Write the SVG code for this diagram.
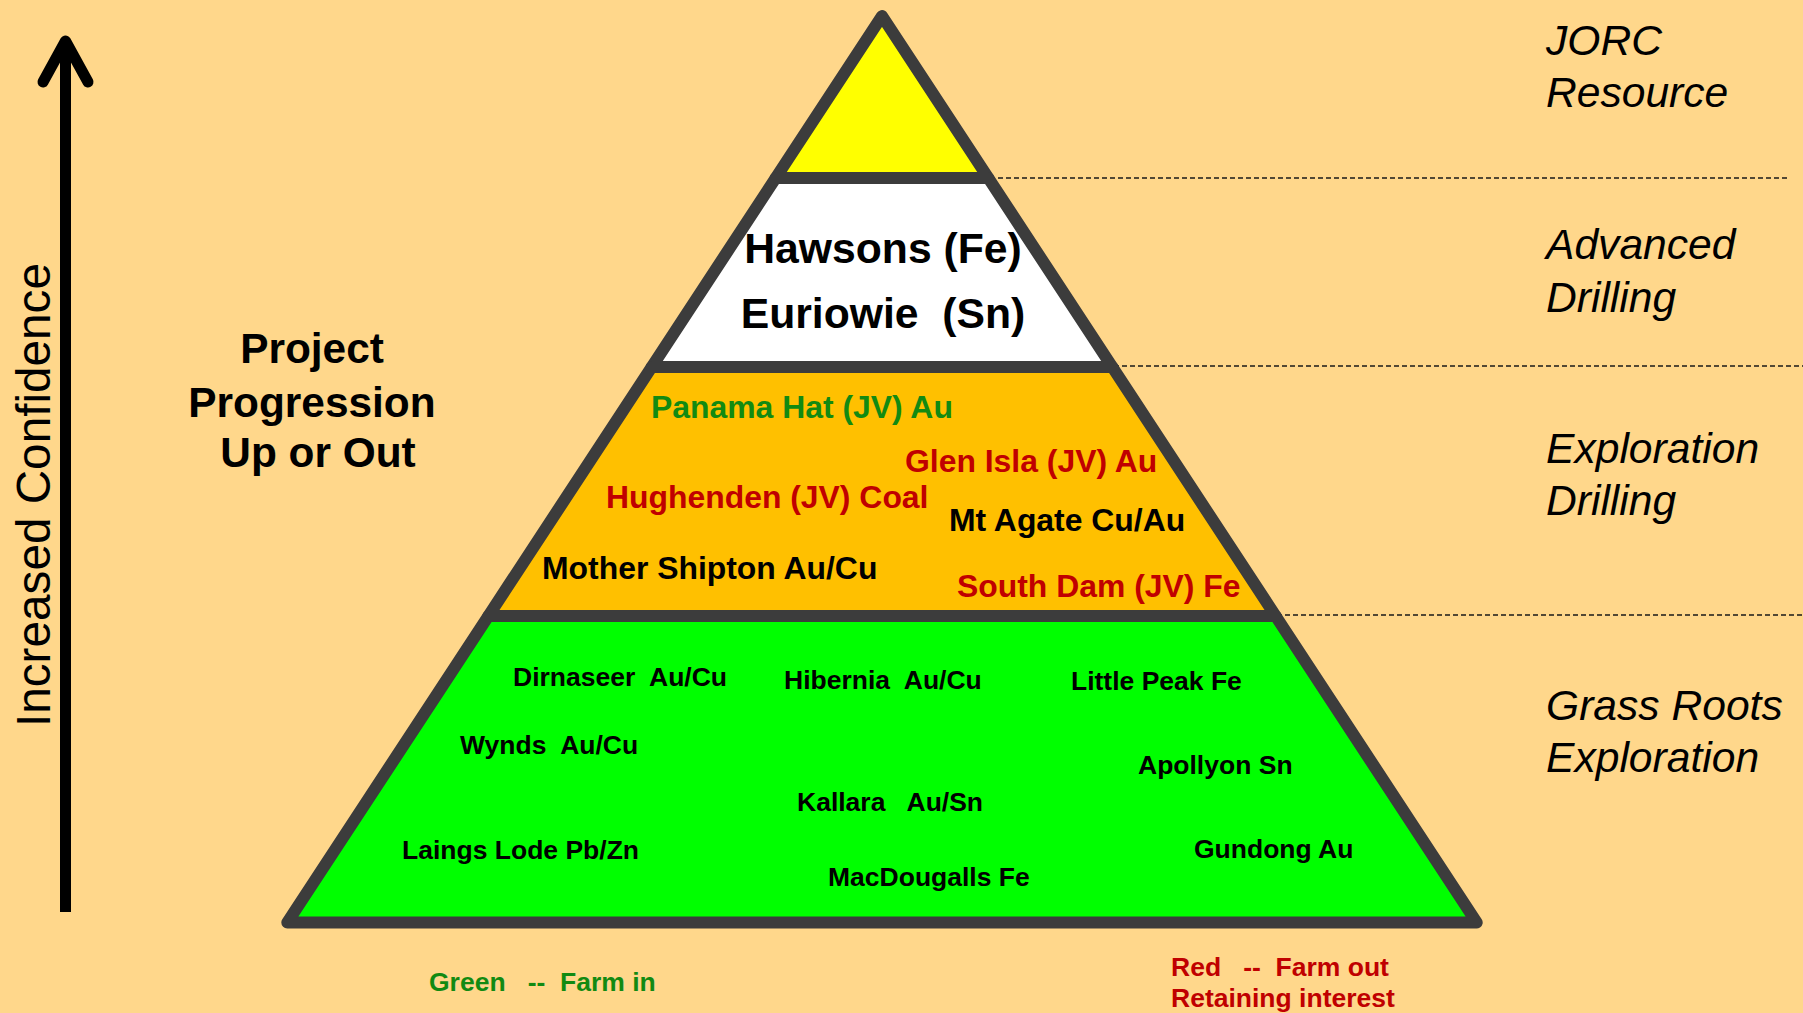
<svg xmlns="http://www.w3.org/2000/svg" width="1803" height="1013" viewBox="0 0 1803 1013">
<style>
.layer{stroke:#3c3c3c;stroke-width:12;stroke-linejoin:round}
.b{font-family:"Liberation Sans",Arial,sans-serif;font-weight:bold}
.lbl{font-family:"Liberation Sans",Arial,sans-serif;font-style:italic;font-size:42.6px;fill:#000}
.o{font-size:31.9px}
.g{font-size:26.5px;fill:#000}
.grn{fill:#128A12}
.red{fill:#C00000}
.blk{fill:#000}
.dash{stroke:#1a1a1a;stroke-width:1.5;stroke-dasharray:5 3;fill:none}
</style>
<rect x="0" y="0" width="1803" height="1013" fill="#FFD78B"/>

<g id="connectors">
  <line class="dash" x1="990" y1="178" x2="1790" y2="178"/>
  <line class="dash" x1="1114" y1="366" x2="1803" y2="366"/>
  <line class="dash" x1="1277" y1="615" x2="1803" y2="615"/>
  <g id="confidence-arrow" stroke="#000" stroke-width="11" fill="none">
    <line x1="65.5" y1="42" x2="65.5" y2="912" stroke-linecap="butt"/>
    <polyline points="43,82 65.5,41 88,82" stroke-linecap="round" stroke-linejoin="round"/>
  </g>
</g>

<g id="jorc-layer">
  <polygon class="layer" fill="#FFFF00" points="882,16 988.3,178 775.7,178"/>
</g>
<g id="advanced-layer">
  <polygon class="layer" fill="#FFFFFF" points="775.7,178 988.3,178 1112.3,367 651.7,367"/>
  <text class="b blk" font-size="42.7" x="883" y="263" text-anchor="middle">Hawsons (Fe)</text>
  <text class="b blk" font-size="42.7" x="883" y="328" text-anchor="middle" xml:space="preserve">Euriowie  (Sn)</text>
</g>
<g id="exploration-layer">
  <polygon class="layer" fill="#FFC000" points="651.7,367 1112.3,367 1275.6,616 488.4,616"/>
  <text class="b o grn" x="651" y="418">Panama Hat (JV) Au</text>
  <text class="b o red" x="905" y="472">Glen Isla (JV) Au</text>
  <text class="b o red" x="606" y="508">Hughenden (JV) Coal</text>
  <text class="b o blk" x="949" y="531">Mt Agate Cu/Au</text>
  <text class="b o blk" x="542" y="579">Mother Shipton Au/Cu</text>
  <text class="b o red" x="957" y="597">South Dam (JV) Fe</text>
</g>
<g id="grassroots-layer">
  <polygon class="layer" fill="#00FF00" points="488.4,616 1275.6,616 1476.7,922.5 287.3,922.5"/>
  <text class="b g" x="513" y="686" xml:space="preserve">Dirnaseer  Au/Cu</text>
  <text class="b g" x="784" y="689" xml:space="preserve">Hibernia  Au/Cu</text>
  <text class="b g" x="1071" y="690">Little Peak Fe</text>
  <text class="b g" x="460" y="754" xml:space="preserve">Wynds  Au/Cu</text>
  <text class="b g" x="1138" y="774">Apollyon Sn</text>
  <text class="b g" x="797" y="811" xml:space="preserve">Kallara   Au/Sn</text>
  <text class="b g" x="402" y="859">Laings Lode Pb/Zn</text>
  <text class="b g" x="1194" y="858">Gundong Au</text>
  <text class="b g" x="828" y="886">MacDougalls Fe</text>
</g>

<g id="stage-labels">
  <text class="lbl" x="1546" y="55">JORC</text>
  <text class="lbl" x="1546" y="107">Resource</text>
  <text class="lbl" x="1546" y="259">Advanced</text>
  <text class="lbl" x="1546" y="312">Drilling</text>
  <text class="lbl" x="1546" y="463">Exploration</text>
  <text class="lbl" x="1546" y="515">Drilling</text>
  <text class="lbl" x="1546" y="720">Grass Roots</text>
  <text class="lbl" x="1546" y="772">Exploration</text>
</g>

<g id="confidence-label">
  <text transform="translate(50,727) rotate(-90)" font-family="Liberation Sans, Arial, sans-serif" font-size="47.7" fill="#000">Increased Confidence</text>
</g>

<g id="progression-label">
  <text class="b blk" font-size="42.4" x="312" y="363" text-anchor="middle">Project</text>
  <text class="b blk" font-size="42.4" x="312" y="417" text-anchor="middle">Progression</text>
  <text class="b blk" font-size="42.4" x="318" y="467" text-anchor="middle">Up or Out</text>
</g>

<g id="legend-green">
  <text class="b grn" font-size="26.5" x="429" y="991" xml:space="preserve">Green   --  Farm in</text>
</g>
<g id="legend-red">
  <text class="b red" font-size="26.5" x="1171" y="976" xml:space="preserve">Red   --  Farm out</text>
  <text class="b red" font-size="26.5" x="1171" y="1007">Retaining interest</text>
</g>
</svg>
